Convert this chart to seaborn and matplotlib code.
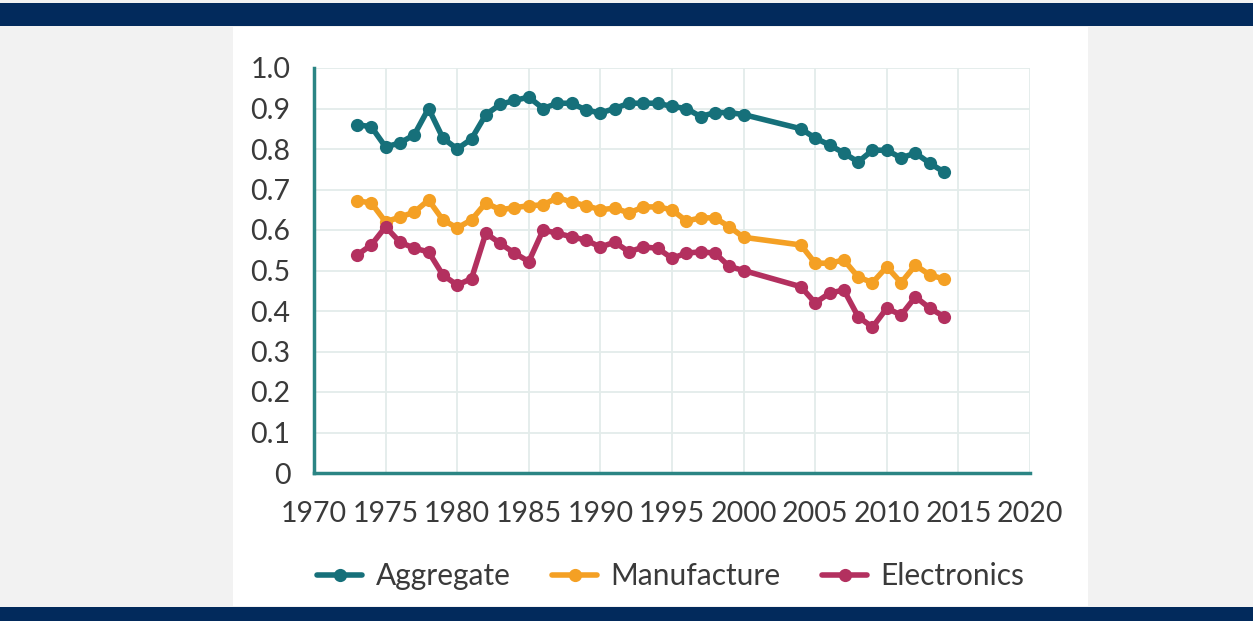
import numpy as np
import pandas as pd
import matplotlib.pyplot as plt
import seaborn as sns
from matplotlib.patches import Rectangle

# years covered (no observations for 2001-2003)
years = list(range(1973, 2001)) + list(range(2004, 2015))

aggregate = [0.86, 0.855, 0.805, 0.815, 0.835, 0.90, 0.827, 0.80, 0.825, 0.885,
             0.91, 0.92, 0.928, 0.90, 0.913, 0.913, 0.896, 0.889, 0.90, 0.913,
             0.913, 0.913, 0.905, 0.90, 0.88, 0.89, 0.89, 0.885,
             0.85, 0.827, 0.81, 0.79, 0.768, 0.797, 0.797, 0.778, 0.79, 0.765, 0.743]

manufacture = [0.672, 0.667, 0.62, 0.632, 0.644, 0.674, 0.625, 0.605, 0.625, 0.667,
               0.65, 0.655, 0.66, 0.662, 0.68, 0.669, 0.66, 0.65, 0.654, 0.642,
               0.657, 0.657, 0.65, 0.622, 0.63, 0.63, 0.608, 0.582,
               0.563, 0.518, 0.518, 0.526, 0.484, 0.47, 0.509, 0.47, 0.513, 0.489, 0.479]

electronics = [0.538, 0.563, 0.608, 0.57, 0.555, 0.546, 0.489, 0.464, 0.48, 0.592,
               0.567, 0.543, 0.522, 0.60, 0.592, 0.583, 0.575, 0.558, 0.57, 0.546,
               0.558, 0.555, 0.53, 0.543, 0.546, 0.543, 0.51, 0.50,
               0.46, 0.42, 0.444, 0.452, 0.386, 0.36, 0.407, 0.39, 0.435, 0.407, 0.386]

series_names = ["Aggregate", "Manufacture", "Electronics"]
colors = ["#16707a", "#f4a024", "#b3305f"]

df = pd.DataFrame({"year": years, "Aggregate": aggregate,
                   "Manufacture": manufacture, "Electronics": electronics})
long_df = df.melt(id_vars="year", var_name="series", value_name="value")

sns.set_style("white")
plt.rcParams['font.family'] = ['Lato', 'DejaVu Sans']

fig = plt.figure(figsize=(12.53, 6.21), dpi=100)
fig.patch.set_facecolor("#f2f2f2")

# white panel and navy bands (behind the axes)
fig.patches.append(Rectangle((233/1253, 1 - 606/621), (1088-233)/1253, (606-27)/621,
                             transform=fig.transFigure, facecolor="white", edgecolor="none", zorder=-2))
fig.patches.append(Rectangle((0, 1 - 26/621), 1, 23/621,
                             transform=fig.transFigure, facecolor="#022a5c", edgecolor="none", zorder=-2))
fig.patches.append(Rectangle((0, 0), 1, 14/621,
                             transform=fig.transFigure, facecolor="#022a5c", edgecolor="none", zorder=-2))

ax = fig.add_axes([314/1253, 1 - 473/621, (1030-314)/1253, (473-68)/621])
ax.set_facecolor("white")

sns.lineplot(data=long_df, x="year", y="value", hue="series", hue_order=series_names,
             palette=colors, marker="o", markersize=9.5, markeredgewidth=0,
             linewidth=4, ax=ax, legend=True)

ax.set_xlim(1970, 2020)
ax.set_ylim(0, 1.0)
ax.set_xticks(range(1970, 2021, 5))
ax.set_yticks(np.round(np.arange(0, 1.01, 0.1), 1))
ax.set_yticklabels(["0"] + [f"{v:.1f}" for v in np.arange(0.1, 1.01, 0.1)])
ax.grid(True, color="#e3ecea", linewidth=1.3)
ax.set_axisbelow(True)
ax.set_xlabel("")
ax.set_ylabel("")

for side in ["top", "right"]:
    ax.spines[side].set_visible(False)
for side in ["left", "bottom"]:
    ax.spines[side].set_color("#2b8584")
    ax.spines[side].set_linewidth(2.5)

ax.tick_params(axis="both", length=0, labelsize=20.5, colors="#3a3a3a")
ax.tick_params(axis="y", pad=17)
ax.tick_params(axis="x", pad=20)

handles, labels = ax.get_legend_handles_labels()
ax.legend(handles, labels, loc="center", bbox_to_anchor=(0.5355, 1 - 576/621),
          bbox_transform=fig.transFigure, ncol=3, frameon=False, fontsize=21.5,
          handlelength=1.5, columnspacing=1.4, handletextpad=0.45,
          labelcolor="#3a3a3a")

fig.savefig("out.png", dpi=100, facecolor=fig.get_facecolor())
